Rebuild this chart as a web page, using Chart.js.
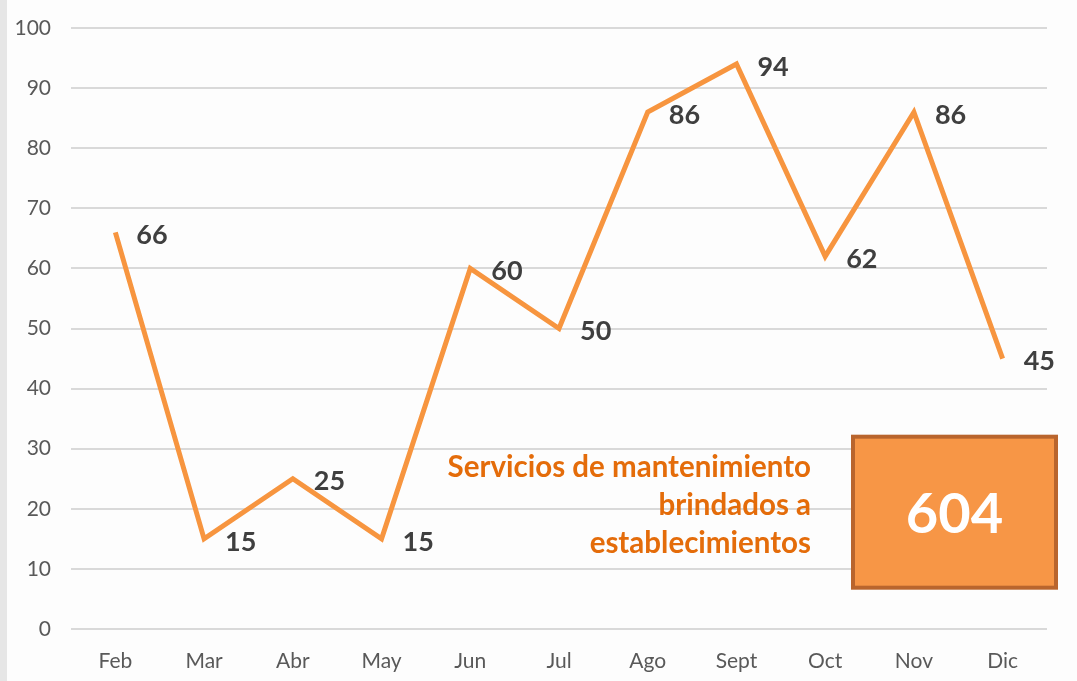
<!DOCTYPE html>
<html>
<head>
<meta charset="utf-8">
<script src="https://cdn.jsdelivr.net/npm/chart.js@4"></script>
<style>
  html, body { margin: 0; padding: 0; background: #fdfdfd; }
  #wrap { position: relative; width: 1077px; height: 681px; }
  #wrap:before { content: ""; position: absolute; left: 0; top: 0; width: 7px; height: 681px; background: #e6e6e6; }
  canvas { display: block; }
</style>
</head>
<body>
<div id="wrap"><canvas id="c" width="1077" height="681"></canvas></div>
<script>
const categories = ['Feb', 'Mar', 'Abr', 'May', 'Jun', 'Jul', 'Ago', 'Sept', 'Oct', 'Nov', 'Dic'];
const services = [66, 15, 25, 15, 60, 50, 86, 94, 62, 86, 45];
const totalLabel = '604';
const annotationLines = ['Servicios de mantenimiento', 'brindados a', 'establecimientos'];

const FONT = 'Lato, "Open Sans", sans-serif';

const labelPlugin = {
  id: 'valueLabels',
  afterDatasetsDraw(chart) {
    const ctx = chart.ctx;
    const meta = chart.getDatasetMeta(0);
    ctx.save();
    ctx.font = 'bold 27px ' + FONT;
    ctx.fillStyle = '#3f3f3f';
    ctx.textAlign = 'left';
    ctx.textBaseline = 'middle';
    meta.data.forEach((pt, i) => {
      ctx.fillText(String(services[i]), pt.x + 21, pt.y + 3);
    });
    ctx.restore();
  }
};

const annotationPlugin = {
  id: 'annotationBox',
  afterDraw(chart) {
    const ctx = chart.ctx;
    const a = chart.chartArea;
    const ys = chart.scales.y;
    ctx.save();
    ctx.font = 'bold 29.5px ' + FONT;
    ctx.fillStyle = '#e46c0a';
    ctx.textAlign = 'right';
    ctx.textBaseline = 'middle';
    const tx = a.left + 740;
    const y0 = ys.getPixelForValue(20) - 41;
    annotationLines.forEach((t, i) => ctx.fillText(t, tx, y0 + i * 38));
    const bx = a.left + 782, by = ys.getPixelForValue(30) - 12;
    const bw = 203, bh = 151;
    ctx.fillStyle = '#f79646';
    ctx.fillRect(bx, by, bw, bh);
    ctx.lineWidth = 4;
    ctx.strokeStyle = '#b9652d';
    ctx.strokeRect(bx, by, bw, bh);
    ctx.fillStyle = '#ffffff';
    ctx.font = 'bold 56px ' + FONT;
    ctx.textAlign = 'center';
    ctx.fillText(totalLabel, bx + bw / 2, by + bh / 2 + 3);
    ctx.restore();
  }
};

new Chart(document.getElementById('c'), {
  type: 'line',
  data: {
    labels: categories,
    datasets: [{
      data: services,
      borderColor: '#f7953f',
      borderWidth: 5,
      pointRadius: 0,
      tension: 0,
      fill: false
    }]
  },
  options: {
    responsive: false,
    animation: false,
    layout: { padding: { left: 8, right: 30, top: 28, bottom: 0 } },
    plugins: { legend: { display: false }, tooltip: { enabled: false } },
    scales: {
      x: {
        offset: true,
        grid: { display: false },
        border: { display: false },
        ticks: { color: '#595959', font: { family: FONT, size: 21 }, padding: 12 },
        afterFit(s) { s.height = 52; s.paddingLeft = 0; s.paddingRight = 0; }
      },
      y: {
        min: 0, max: 100,
        ticks: { stepSize: 10, color: '#595959', font: { family: FONT, size: 21 }, padding: 20 },
        grid: { color: '#d9d9d9', lineWidth: 2, drawTicks: false },
        border: { display: false },
        afterFit(s) { s.width = 63; s.paddingTop = 0; s.paddingBottom = 0; }
      }
    }
  },
  plugins: [labelPlugin, annotationPlugin]
});
</script>
</body>
</html>
